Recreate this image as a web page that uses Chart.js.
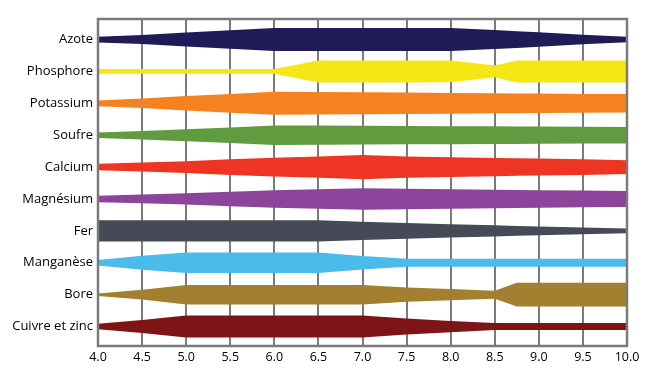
<!DOCTYPE html>
<html>
<head>
<meta charset="utf-8">
<script src="https://cdn.jsdelivr.net/npm/chart.js@4"></script>
<style>
  html, body { margin: 0; padding: 0; background: #fff; }
  #wrap { width: 650px; height: 373px; }
</style>
</head>
<body>
<div id="wrap"><canvas id="phChart"></canvas></div>
<script>
// pH scale and where each band was measured
const phPoints = [4.0, 4.5, 5.0, 5.5, 6.0, 6.5, 7.0, 7.5, 8.0, 8.5, 8.75, 9.0, 9.5, 10.0];

const nutrients = ['Azote', 'Phosphore', 'Potassium', 'Soufre', 'Calcium',
  'Magnésium', 'Fer', 'Manganèse', 'Bore', 'Cuivre et zinc'];

const colors = ['#1f1b56', '#f5e616', '#f58220', '#609b40', '#ee3524',
  '#8c459b', '#454a56', '#4bbbea', '#a37f30', '#7d1517'];

// relative availability (band thickness, 1 = full)
const azote     = [0.25, 0.40, 0.60, 0.80, 1.00, 1.00, 1.00, 1.00, 1.00, 0.83, 0.73, 0.63, 0.42, 0.23];
const phosphore = [0.21, 0.21, 0.21, 0.21, 0.21, 0.96, 0.96, 0.96, 0.94, 0.52, 0.96, 0.96, 0.96, 0.96];
const potassium = [0.25, 0.42, 0.63, 0.82, 1.00, 0.98, 0.96, 0.93, 0.90, 0.87, 0.86, 0.85, 0.82, 0.80];
const soufre    = [0.24, 0.37, 0.52, 0.68, 0.85, 0.84, 0.82, 0.80, 0.78, 0.77, 0.76, 0.75, 0.73, 0.72];
const calcium   = [0.28, 0.39, 0.51, 0.68, 0.82, 0.93, 1.05, 0.92, 0.86, 0.79, 0.76, 0.74, 0.68, 0.60];
const magnesium = [0.28, 0.38, 0.49, 0.63, 0.76, 0.85, 0.93, 0.90, 0.85, 0.80, 0.78, 0.76, 0.73, 0.70];
const fer       = [0.92, 0.92, 0.92, 0.92, 0.92, 0.92, 0.79, 0.68, 0.58, 0.48, 0.43, 0.38, 0.30, 0.21];
const manganese = [0.24, 0.60, 0.90, 0.90, 0.90, 0.90, 0.59, 0.35, 0.35, 0.35, 0.35, 0.35, 0.35, 0.35];
const bore      = [0.11, 0.42, 0.85, 0.85, 0.85, 0.85, 0.85, 0.62, 0.49, 0.35, 1.04, 1.04, 1.04, 1.04];
const cuivre    = [0.24, 0.56, 0.96, 0.96, 0.96, 0.96, 0.96, 0.70, 0.49, 0.30, 0.30, 0.30, 0.30, 0.30];

const widths = [azote, phosphore, potassium, soufre, calcium, magnesium, fer, manganese, bore, cuivre];

const BAND = 0.72; // full band thickness in row units

const datasets = [];
nutrients.forEach((name, i) => {
  const w = widths[i];
  // upper edge, filled down to the lower edge
  datasets.push({
    label: name,
    data: phPoints.map((x, k) => ({ x: x, y: i - w[k] * BAND / 2 })),
    backgroundColor: colors[i],
    borderColor: colors[i],
    borderWidth: 0,
    pointRadius: 0,
    tension: 0,
    fill: '+1'
  });
  datasets.push({
    label: name + ' (bas)',
    data: phPoints.map((x, k) => ({ x: x, y: i + w[k] * BAND / 2 })),
    borderColor: colors[i],
    borderWidth: 0,
    pointRadius: 0,
    tension: 0,
    fill: false
  });
});

const frame = {
  id: 'frame',
  afterDraw(chart) {
    const { ctx, chartArea: a } = chart;
    ctx.save();
    ctx.strokeStyle = '#7b7b7b';
    ctx.lineWidth = 2.5;
    ctx.strokeRect(a.left, a.top, a.right - a.left, a.bottom - a.top);
    ctx.restore();
  }
};

new Chart(document.getElementById('phChart'), {
  type: 'line',
  data: { datasets: datasets },
  plugins: [frame],
  options: {
    responsive: true,
    maintainAspectRatio: false,
    animation: false,
    layout: { padding: { top: 19, right: 23, bottom: 0, left: 0 } },
    plugins: {
      legend: { display: false },
      tooltip: { enabled: false }
    },
    scales: {
      x: {
        type: 'linear',
        min: 4,
        max: 10,
        z: 1,
        afterFit: function(scale) { scale.height = 27; },
        grid: { color: '#7b7b7b', lineWidth: 2, drawTicks: false },
        border: { display: false },
        ticks: {
          stepSize: 0.5,
          padding: 4,
          color: '#000',
          font: { family: 'Open Sans', size: 12.5 },
          callback: function(value) { return value.toFixed(1); }
        }
      },
      y: {
        type: 'linear',
        reverse: true,
        min: -0.643,
        max: 9.61,
        afterFit: function(scale) { scale.width = 98; },
        afterBuildTicks: function(scale) {
          scale.ticks = nutrients.map((n, i) => ({ value: i }));
        },
        grid: { display: false, drawTicks: false },
        border: { display: false },
        ticks: {
          padding: 5,
          color: '#000',
          font: { family: 'Open Sans', size: 13 },
          callback: function(value) { return nutrients[value]; }
        }
      }
    }
  }
});
</script>
</body>
</html>
